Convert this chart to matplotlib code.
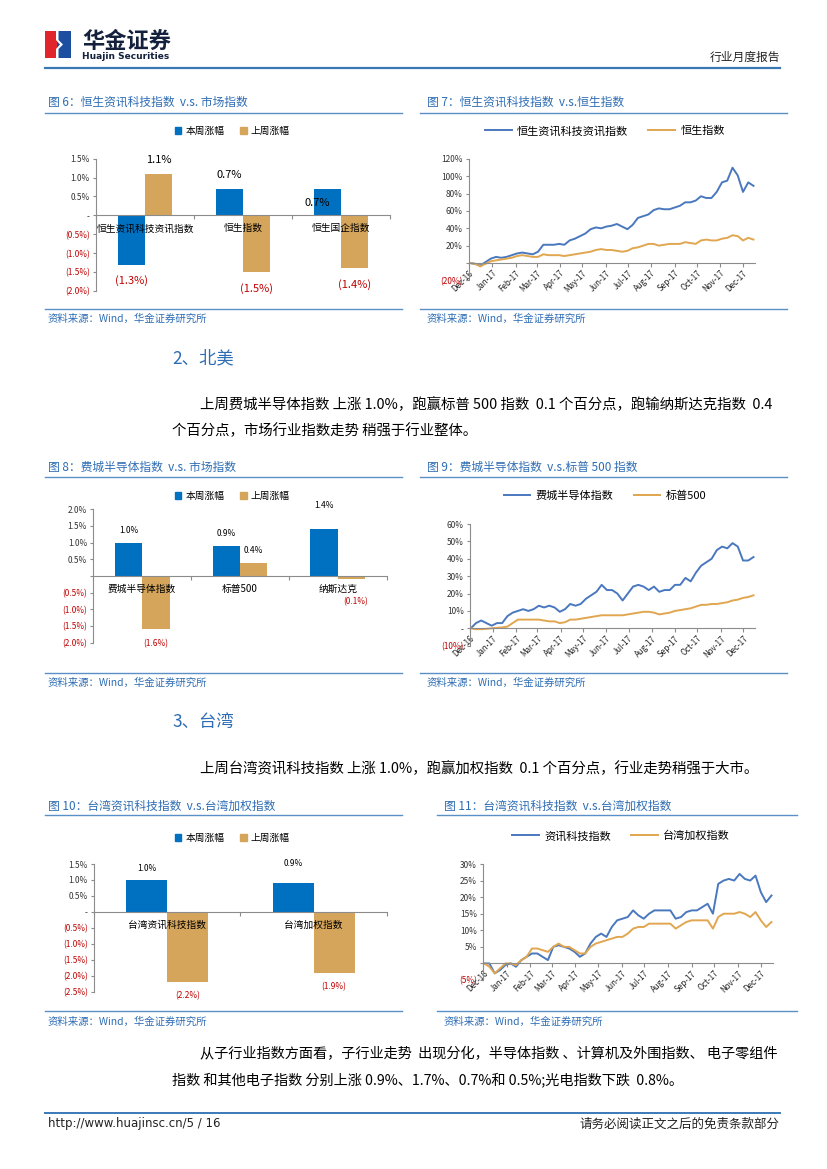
import numpy as np
import pandas as pd
import matplotlib
matplotlib.use("Agg")
import matplotlib.pyplot as plt
import matplotlib.dates as mdates
from matplotlib.patches import Rectangle, Patch, Polygon
from matplotlib.lines import Line2D

plt.rcParams['font.family'] = ['Noto Sans CJK SC', 'DejaVu Sans']

W, H = 827, 1169

# ---- 数据 ----
hk_cats = ["恒生资讯科技资讯指数", "恒生指数", "恒生国企指数"]
hk_this_week = [-1.3, 0.7, 0.7]
hk_last_week = [1.1, -1.5, -1.4]

us_cats = ["费城半导体指数", "标普500", "纳斯达克"]
us_this_week = [1.0, 0.9, 1.4]
us_last_week = [-1.6, 0.4, -0.1]

tw_cats = ["台湾资讯科技指数", "台湾加权指数"]
tw_this_week = [1.0, 0.9]
tw_last_week = [-2.2, -1.9]

weeks = pd.date_range("2016-12-02", "2017-12-15", freq="W-FRI")
hs_it = [0, -1, -3, 1, 5, 7, 6, 7, 9, 11, 12, 11, 10, 13, 21, 21, 21, 22, 21, 26,
         28, 31, 34, 39, 41, 40, 42, 43, 45, 42, 39, 44, 52, 54, 56, 61, 63, 62, 62, 64,
         66, 70, 70, 72, 77, 75, 75, 82, 93, 95, 110, 101, 82, 93, 89]
hsi = [0, -1, -4, -1, 2, 3, 4, 5, 6, 8, 9, 8, 7, 7, 10, 9, 9, 9, 8, 9,
       10, 11, 12, 13, 15, 16, 15, 15, 14, 13, 14, 17, 18, 20, 22, 22, 20, 21, 22, 22,
       22, 24, 23, 22, 26, 27, 26, 26, 28, 29, 32, 31, 26, 29, 27]
sox = [0, 3, 4.5, 3, 1.5, 3, 3, 7, 9, 10, 11, 10, 11, 13, 12, 13, 12, 9.5, 11, 14,
       13, 14, 17, 19, 21, 25, 22, 22, 20, 16, 20, 24, 25, 24, 22, 24, 21, 22, 22, 25,
       25, 29, 27, 32, 36, 38, 40, 45, 47, 46, 49, 47, 39, 39, 41]
spx = [0, -0.5, -0.5, -0.3, 0, 0.3, 0.5, 1, 3, 5, 5, 5, 5, 5, 4.5, 4, 4, 3, 3.5, 5,
       5, 5.5, 6, 6.5, 7, 7.5, 7.5, 7.5, 7.5, 7.5, 8, 8.5, 9, 9.5, 9.5, 9, 8, 8.5, 9, 10,
       10.5, 11, 11.5, 12.5, 13.5, 13.5, 14, 14, 14.5, 15, 16, 16.5, 17.5, 18, 19]
tw_it = [0, 0, -3, -2, -0.5, 0, -1, 1, 2, 3, 3, 2, 1, 5, 5.5, 5, 4.5, 3.5, 2, 3,
         6, 8, 9, 8, 11, 13, 13.5, 14, 16, 14.5, 13.5, 15, 16, 16, 16, 16, 13.5, 14, 15.5, 16,
         16, 17, 18, 15, 24, 25, 25.5, 25, 27, 25.5, 25, 26.5, 21.5, 18.5, 20.5]
taiex = [0, -1, -3, -1.5, 0, 0, -0.5, 1, 2, 4.5, 4.5, 4, 3.5, 5, 6, 5, 5, 4, 3, 3,
         5, 6, 6.5, 7, 7.5, 8, 8, 9, 10.5, 11, 11, 12, 12, 12, 12, 12, 10.5, 11.5, 12.5, 13,
         13, 13, 13, 10.5, 14, 15, 15, 15, 15.5, 15, 14, 15.5, 13, 11, 12.5]

# ---- 颜色 ----
BAR_BLUE = '#0070C0'
BAR_TAN = '#D5A55C'
LINE_BLUE = '#4A78BE'
LINE_TAN = '#E1A650'
TITLE_BLUE = '#2E6DB4'
RULE_BLUE = '#5B8FC7'
RED = '#C00000'
GRAY = '#8C8C8C'

fig = plt.figure(figsize=(8.27, 11.69), dpi=100)


def fx(x):
    return x / W


def fy(y):
    return 1 - y / H


def text(x, y, s, **kw):
    kw.setdefault('va', 'center')
    fig.text(fx(x), fy(y), s, **kw)


def hline(x0, x1, y, color=RULE_BLUE, lw=1.0):
    fig.add_artist(Line2D([fx(x0), fx(x1)], [fy(y), fy(y)],
                          transform=fig.transFigure, color=color, lw=lw))


def axes_px(x0, y0, x1, y1):
    ax = fig.add_axes([fx(x0), fy(y1), (x1 - x0) / W, (y1 - y0) / H])
    ax.patch.set_alpha(0)
    return ax


def pct_label(v, zero_label):
    if v > 0:
        return f"{v:.0f}%" if float(v).is_integer() and abs(v) >= 5 else f"{v:.1f}%"
    if v < 0:
        return f"({-v:.0f}%)" if float(v).is_integer() and abs(v) >= 5 else f"({-v:.1f}%)"
    return zero_label


def style_yaxis(ax, ticks, zero_label):
    ax.set_yticks(ticks)
    ax.set_yticklabels([pct_label(t, zero_label) for t in ticks])
    for t, lab in zip(ticks, ax.get_yticklabels()):
        lab.set_color(RED if t < 0 else '#333333')
    ax.tick_params(axis='y', length=2.5, color=GRAY, labelsize=6, pad=2)


def bar_panel(box, cats, this_wk, last_wk, ylo, yhi, step, zero_label,
              lab_size, pos_off, neg_off, overrides, legend_xy):
    ax = axes_px(*box)
    n = len(cats)
    x = np.arange(n)
    w = 0.28
    ax.bar(x - w / 2, this_wk, w, color=BAR_BLUE, label='本周涨幅')
    ax.bar(x + w / 2, last_wk, w, color=BAR_TAN, label='上周涨幅')
    ax.set_xlim(-0.5, n - 0.5)
    ax.set_ylim(ylo, yhi)
    for s in ['top', 'right']:
        ax.spines[s].set_visible(False)
    ax.spines['bottom'].set_position(('data', 0))
    for s in ['left', 'bottom']:
        ax.spines[s].set_color(GRAY)
    ax.set_xticks(np.arange(-0.5, n))
    ax.set_xticklabels([''] * (n + 1))
    ax.tick_params(axis='x', length=3, color=GRAY)
    style_yaxis(ax, np.arange(ylo, yhi + step / 2, step), zero_label)
    for i, c in enumerate(cats):
        ax.annotate(c, (i, 0), xytext=(0, -13 * 0.72), textcoords='offset points',
                    ha='center', va='center', fontsize=7, color='black')
    for k, vals, shift in [(0, this_wk, -w / 2), (1, last_wk, w / 2)]:
        for i, v in enumerate(vals):
            dx, dy = overrides.get((k, i), (0, pos_off if v > 0 else neg_off))
            ax.annotate(pct_label(v, '-'), (i + shift, v), xytext=(dx * 0.72, dy * 0.72),
                        textcoords='offset points', ha='center', va='center',
                        fontsize=lab_size, color='black' if v > 0 else RED)
    handles = [Patch(color=BAR_BLUE, label='本周涨幅'), Patch(color=BAR_TAN, label='上周涨幅')]
    ax.legend(handles=handles, loc='center', bbox_to_anchor=(fx(legend_xy[0]), fy(legend_xy[1])),
              bbox_transform=fig.transFigure, ncol=2, frameon=False, fontsize=7,
              handlelength=0.7, handleheight=0.7, handletextpad=0.4, columnspacing=1.6)
    return ax


def line_panel(box, s1, s2, names, ylo, yhi, step, zero_label, legend_xy):
    ax = axes_px(*box)
    ax.plot(weeks, s1, color=LINE_BLUE, lw=1.4, label=names[0])
    ax.plot(weeks, s2, color=LINE_TAN, lw=1.4, label=names[1])
    ax.set_xlim(pd.Timestamp('2016-12-01'), pd.Timestamp('2017-12-17'))
    ax.set_ylim(ylo, yhi)
    for s in ['top', 'right']:
        ax.spines[s].set_visible(False)
    ax.spines['bottom'].set_position(('data', 0))
    for s in ['left', 'bottom']:
        ax.spines[s].set_color(GRAY)
    ax.xaxis.set_major_locator(mdates.MonthLocator())
    ax.xaxis.set_major_formatter(mdates.DateFormatter('%b-%y'))
    ax.tick_params(axis='x', length=3, color=GRAY, labelsize=5.8, pad=1)
    plt.setp(ax.get_xticklabels(), rotation=45, ha='right', va='top',
             rotation_mode='anchor', color='#222222')
    style_yaxis(ax, np.arange(ylo, yhi + step / 2, step), zero_label)
    ax.legend(loc='center', bbox_to_anchor=(fx(legend_xy[0]), fy(legend_xy[1])),
              bbox_transform=fig.transFigure, ncol=2, frameon=False, fontsize=8,
              handlelength=2.4, handletextpad=0.5, columnspacing=1.8)
    return ax


# ---- 页眉 ----
fig.add_artist(Rectangle((fx(45), fy(58)), 12 / W, 27 / H, transform=fig.transFigure,
                         color='#E0262B', lw=0))
fig.add_artist(Rectangle((fx(57), fy(58)), 14 / W, 27 / H, transform=fig.transFigure,
                         color='#1C4FA0', lw=0))
fig.add_artist(Polygon([(fx(56), fy(31)), (fx(58.5), fy(31)), (fx(58.5), fy(40)),
                        (fx(63), fy(44.5)), (fx(58.5), fy(49)), (fx(58.5), fy(58)),
                        (fx(56), fy(58)), (fx(56), fy(49)), (fx(60), fy(44.5)),
                        (fx(56), fy(40))], closed=True, transform=fig.transFigure,
                       color='white', lw=0))
text(82, 41, "华金证券", fontsize=16, fontweight='bold', color='#14213D')
text(82, 56.5, "Huajin Securities", fontsize=6.5, fontweight='bold', color='#14213D',
     family=['DejaVu Sans'])
text(780, 57, "行业月度报告", fontsize=8.5, ha='right', color='#222222')
hline(45, 780, 68, color='#3B79B5', lw=1.6)

# ---- 图 6 / 图 7 ----
text(48, 102, "图 6：恒生资讯科技指数  v.s. 市场指数", fontsize=8.5, color=TITLE_BLUE)
text(427, 102, "图 7：恒生资讯科技指数  v.s.恒生指数", fontsize=8.5, color=TITLE_BLUE)
hline(45, 402, 112.5)
hline(420, 787, 112.5)
bar_panel((96, 158.7, 390, 291), hk_cats, hk_this_week, hk_last_week, -2.0, 1.5, 0.5, '-',
          8, 14, -16, {(0, 2): (-10, -14)}, (232, 131))
line_panel((469, 159, 755, 280.3), hs_it, hsi, ["恒生资讯科技资讯指数", "恒生指数"],
           -20, 120, 20, '', (605, 131))
hline(45, 402, 308.5)
hline(420, 787, 308.5)
text(48, 319, "资料来源：Wind，华金证券研究所", fontsize=7.5, color=TITLE_BLUE, style='italic')
text(427, 319, "资料来源：Wind，华金证券研究所", fontsize=7.5, color=TITLE_BLUE, style='italic')

# ---- 北美 ----
text(172, 358, "2、北美", fontsize=12.5, color=TITLE_BLUE)
text(200, 405, "上周费城半导体指数 上涨 1.0%，跑赢标普 500 指数  0.1 个百分点，跑输纳斯达克指数  0.4",
     fontsize=10.4, color='black')
text(172, 431, "个百分点，市场行业指数走势 稍强于行业整体。", fontsize=10.4, color='black')

text(48, 467, "图 8：费城半导体指数  v.s. 市场指数", fontsize=8.5, color=TITLE_BLUE)
text(427, 467, "图 9：费城半导体指数  v.s.标普 500 指数", fontsize=8.5, color=TITLE_BLUE)
hline(45, 402, 477)
hline(420, 787, 477)
bar_panel((93.3, 509.3, 386.7, 642.7), us_cats, us_this_week, us_last_week, -2.0, 2.0, 0.5, '',
          6, 12, -14, {(0, 2): (0, 24), (1, 2): (4, -22)}, (232, 496))
line_panel((470, 524, 755, 645.7), sox, spx, ["费城半导体指数", "标普500"],
           -10, 60, 10, '-', (605, 496))
hline(45, 402, 672.5)
hline(420, 787, 672.5)
text(48, 683, "资料来源：Wind，华金证券研究所", fontsize=7.5, color=TITLE_BLUE, style='italic')
text(427, 683, "资料来源：Wind，华金证券研究所", fontsize=7.5, color=TITLE_BLUE, style='italic')

# ---- 台湾 ----
text(172, 722, "3、台湾", fontsize=12.5, color=TITLE_BLUE)
text(200, 769, "上周台湾资讯科技指数 上涨 1.0%，跑赢加权指数  0.1 个百分点，行业走势稍强于大市。",
     fontsize=10.4, color='black')

text(48, 806, "图 10：台湾资讯科技指数  v.s.台湾加权指数", fontsize=8.5, color=TITLE_BLUE)
text(444, 806, "图 11：台湾资讯科技指数  v.s.台湾加权指数", fontsize=8.5, color=TITLE_BLUE)
hline(45, 402, 815)
hline(437, 797, 815)
bar_panel((94, 864, 386.7, 991.7), tw_cats, tw_this_week, tw_last_week, -2.5, 1.5, 0.5, '-',
          6, 11, -14, {(0, 1): (0, 20)}, (232, 838))
line_panel((483.3, 864, 773, 980), tw_it, taiex, ["资讯科技指数", "台湾加权指数"],
           -5, 30, 5, '', (621, 836))
hline(45, 402, 1011)
hline(437, 797, 1011)
text(48, 1022, "资料来源：Wind，华金证券研究所", fontsize=7.5, color=TITLE_BLUE, style='italic')
text(444, 1022, "资料来源：Wind，华金证券研究所", fontsize=7.5, color=TITLE_BLUE, style='italic')

text(200, 1054, "从子行业指数方面看，子行业走势  出现分化，半导体指数 、计算机及外围指数、 电子零组件",
     fontsize=10.2, color='black')
text(172, 1080, "指数 和其他电子指数 分别上涨 0.9%、1.7%、0.7%和 0.5%;光电指数下跌  0.8%。",
     fontsize=10.2, color='black')

# ---- 页脚 ----
hline(45, 780, 1113, color='#3B79B5', lw=1.4)
text(48, 1124, "http://www.huajinsc.cn/5 / 16", fontsize=8.5, color='#222222',
     family=['Liberation Sans Narrow', 'DejaVu Sans'])
text(780, 1124, "请务必阅读正文之后的免责条款部分", fontsize=9, ha='right', color='#222222')

fig.savefig("out.png", dpi=100)
